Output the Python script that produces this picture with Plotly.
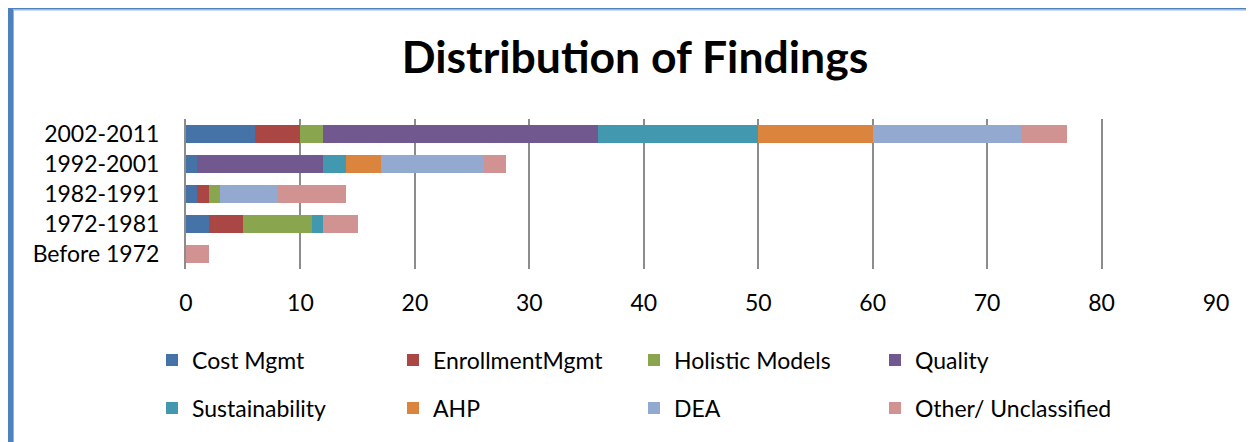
import plotly.graph_objects as go

categories = ["Before 1972", "1972-1981", "1982-1991", "1992-2001", "2002-2011"]
series_names = ["Cost Mgmt", "EnrollmentMgmt", "Holistic Models", "Quality",
                "Sustainability", "AHP", "DEA", "Other/ Unclassified"]
cost_mgmt = [0, 2, 1, 1, 6]
enrollment_mgmt = [0, 3, 1, 0, 4]
holistic_models = [0, 6, 1, 0, 2]
quality = [0, 0, 0, 11, 24]
sustainability = [0, 1, 0, 2, 14]
ahp = [0, 0, 0, 3, 10]
dea = [0, 0, 5, 9, 13]
other = [2, 3, 6, 2, 4]
x_ticks = [0, 10, 20, 30, 40, 50, 60, 70, 80, 90]

series_values = [cost_mgmt, enrollment_mgmt, holistic_models, quality,
                 sustainability, ahp, dea, other]
colors = ["#4572A7", "#AA4643", "#89A54E", "#71588F",
          "#4198AF", "#DB843D", "#93A9CF", "#D19392"]

FONT = "Lato"

fig = go.Figure()
for i, (name, vals, col) in enumerate(zip(series_names, series_values, colors)):
    fig.add_trace(go.Bar(
        y=categories, x=vals, name=name, orientation="h",
        marker=dict(color=col, line=dict(width=0)),
        legend="legend" if i < 4 else "legend2",
    ))

# page body has an 8px margin; layout computed in screen pixels then shifted
OFF = 8
SW, SH = 1254, 442
W, H = SW - OFF, SH - OFF
L, R, T, B = 186, 1216, 119, 269   # plot area in screen pixels
pw, ph = R - L, B - T

def px_x(p):
    return (p - L) / pw

def px_y(p):
    return (B - p) / ph

legend_common = dict(
    orientation="h", xanchor="left", yanchor="middle",
    font=dict(family=FONT, size=23, color="#000000"),
    entrywidth=196, entrywidthmode="pixels",
    bgcolor="rgba(0,0,0,0)", itemclick=False, itemdoubleclick=False,
    traceorder="normal",
)

fig.update_layout(
    width=W, height=H, autosize=False,
    margin=dict(l=L - OFF, r=SW - R, t=T - OFF, b=SH - B),
    paper_bgcolor="white", plot_bgcolor="white",
    barmode="stack", bargap=0.43,
    title=dict(text="<b>Distribution of Findings</b>",
               font=dict(family=FONT, size=44.5, color="#000000"),
               x=(635 - OFF) / W, xref="container", xanchor="center",
               y=1 - (57 - OFF) / H, yref="container", yanchor="middle"),
    xaxis=dict(range=[0, 90], tickvals=x_ticks, showgrid=True,
               gridcolor="#8C8C8C", gridwidth=2, zeroline=False,
               showline=False, ticks="", ticklabelstandoff=18,
               tickfont=dict(family=FONT, size=23, color="#000000"),
               fixedrange=True),
    yaxis=dict(categoryorder="array", categoryarray=categories,
               showline=True, linecolor="#8C8C8C", linewidth=2,
               showgrid=False, ticks="", ticklabelstandoff=20,
               tickfont=dict(family=FONT, size=23, color="#000000"),
               fixedrange=True),
    legend=dict(x=px_x(152), y=px_y(360), **legend_common),
    legend2=dict(x=px_x(152), y=px_y(408), **legend_common),
    shapes=[
        dict(type="line", xref="paper", yref="paper",
             x0=px_x(10.5), x1=px_x(10.5), y0=px_y(7), y1=px_y(SH + 5),
             line=dict(color="#4F81BD", width=5)),
        dict(type="line", xref="paper", yref="paper",
             x0=px_x(8), x1=px_x(SW + 5), y0=px_y(8), y1=px_y(8),
             line=dict(color="#4F81BD", width=3)),
        dict(type="line", xref="paper", yref="paper",
             x0=px_x(13.5), x1=px_x(SW + 5), y0=px_y(10), y1=px_y(10),
             line=dict(color="#95B3D7", width=1)),
        dict(type="line", xref="paper", yref="paper",
             x0=px_x(13.5), x1=px_x(13.5), y0=px_y(10), y1=px_y(SH + 5),
             line=dict(color="#95B3D7", width=1)),
    ],
    showlegend=True,
)

fig.write_html("out.html")
